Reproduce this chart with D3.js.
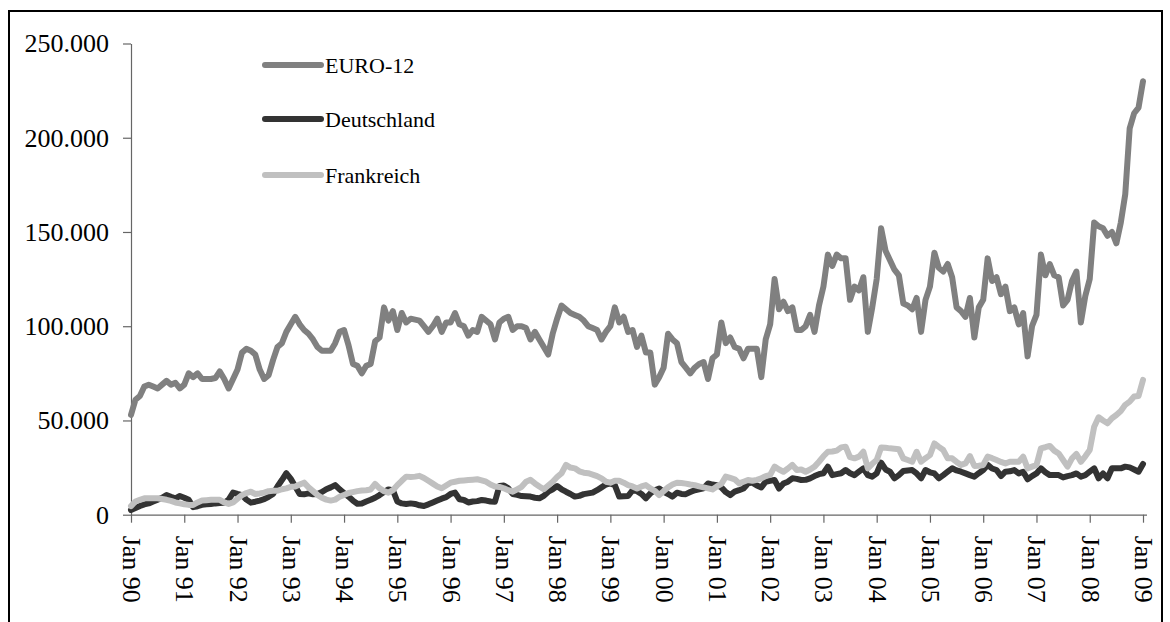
<!DOCTYPE html>
<html>
<head>
<meta charset="utf-8">
<script src="https://cdn.jsdelivr.net/npm/d3@7/dist/d3.min.js"></script>
<style>
  html, body { margin: 0; padding: 0; background: #fff; }
  svg { display: block; font-family: "Liberation Serif", "Times New Roman", serif; }
</style>
</head>
<body>
<svg id="chart" width="1170" height="622"></svg>
<script>
// ---- Data (values in thousands), monthly Jan 1990 .. Jan 2009 ----
const seriesNames = ["EURO-12", "Deutschland", "Frankreich"];
const yearLabels = ["90","91","92","93","94","95","96","97","98","99","00","01","02","03","04","05","06","07","08","09"];
const yTickValues = [0, 50, 100, 150, 200, 250];

const euro12 = [
 53,61,63,68,69,68,67,69,71,69,70,67,
 69,75,73,75,72,72,72,72.5,76,72,67,72,
 77,86,88,87,85,77,72,74,82,89,91,97,
 101,105,101,98,96,93,89,87,87,87,91,97,
 98,90,80,79,75,79,80,92,94,110,103,108,
 98,107,102,104,103.5,103,100,97,100,104,97,102,
 102,107,101,100,95,98,97,105,103,101,93,102,
 104,105,98,100,100,99,93,97,93,89,85,96,
 104,111,109,107,106,105,103,100,99,98,93,97,
 100,110,102,105,97,98,89,95,86,86,69,73,
 78,96,93,91,81,78,75,78,80,81,72,83,
 85,102,91,94,89,88,83,88,88,88,73,93,
 101,125,109,113,108,110,98,98,100,106,97,111,
 121,138,132,138,136,136,114,121,119,126,97,110,
 125,152,140,135,130,127,112,111,109,115,97,114,
 121,139,131,129,133,126,110,108,105,115,94,110,
 114,136,124,126,117,121,108,110,101,107,84,100,
 106,138,127,133,127,126,111,114,124,129,102,116,
 125,155,153,152,148,150,144,155,170,205,213,216,
 230
];

const deutschland = [
 2.5,3.5,4.6,5.5,6,7,8,9,10.4,9.5,8.7,9.9,
 9,7.9,4,4.5,5.2,5.5,5.7,6,6.2,6.4,8,11.7,
 11,10.4,8,6.4,6.9,7.5,8.2,9.5,11,15,18.4,22,
 19,15,11,10.8,11.3,10.8,11,12,13.5,14.5,15.7,13.4,
 11.5,9.6,7.5,5.8,6,7,7.9,9,10.4,12,13.4,13,
 7,6,5.7,6,5.7,5,4.6,5.5,6.5,7.5,8.5,9.3,
 11,11.7,8.2,7.8,6.5,7,7.2,7.8,7.5,7,6.9,15.2,
 15.5,14,11,10.5,9.9,9.8,9.6,9,8.7,10,12.2,13.5,
 15.2,13.5,12.2,11,9.6,10,10.9,11.3,11.7,13,14.5,16,
 16.6,15.7,9.6,9.8,9.9,13,12.5,11,8.7,11.3,13,13.9,
 12.2,11,9.6,11.7,11,10.9,12,13,13.5,14,16.6,16,
 15.7,14.5,12,10.4,12.2,13,13.9,16.6,17,15.5,14.5,17.5,
 18,18.4,13.9,16.5,17.5,19.3,19,18.4,18.5,19.3,20.5,21.5,
 22,25.5,21,21.5,22,23.7,22,21,22.8,24.6,21,20.2,
 21.9,27.6,24,22.8,19.3,21,23.2,23.5,23.7,21.9,19.3,23.7,
 22.5,21.9,19.3,21,22.8,24.6,23.5,22.8,21.9,21,20.2,22,
 23.7,26.4,24.5,23.7,20.5,22.8,23,23.7,21.9,22.8,18.8,20.5,
 21.9,24.6,22.5,21,21,21,19.8,20.5,21,21.9,20.2,21,
 22.8,24.6,19.3,21.9,19.3,24.6,24.6,24.6,25.5,25.1,24,22.8,
 26.9
];

const frankreich = [
 4.6,7,7.9,8.7,8.7,8.7,8.7,8.3,7.9,7.3,6.5,6,
 5.5,5.2,5.2,6.5,7.5,7.7,7.9,7.9,7.9,6.5,5.7,6.5,
 8.5,10.4,11.5,12.2,11,11.3,11.7,12.5,12.7,12.7,13.5,14,
 14.8,15,16,17,14.5,12.5,10.5,9,8,7.5,8,9.5,
 10.5,11.5,12,12.5,12.8,13,13.4,16.3,14,12.5,11.7,13,
 15.7,18,20.2,20,20.2,20.6,19.5,18,16.5,15,14,15.5,
 17,17.5,18,18.2,18.4,18.6,18.8,18.2,17.5,16,15,14.7,
 14,13,12.2,13.5,14.8,17.5,18.5,16.6,15,13.5,15.5,17.5,
 20,22,26.4,25,24.6,23,22.3,22,21.3,20.5,19.3,17.5,
 17,18,18,17,15.7,15,13.9,15,15.7,14,12.7,10.4,
 12.5,14.5,16,17,16.8,16.5,16,15.7,15,14.5,14,13.4,
 15,16.3,20.2,19.5,18.8,16.6,17.5,18.4,18,18.5,19.3,20.5,
 21.1,25.5,24,22.8,24.5,26.4,23.7,24,22.8,24,25.5,28.1,
 31,33.4,33.5,34,35.7,36.1,30.5,29.9,30.8,33.4,24.6,27,
 29,35.7,35.5,35.2,35,34.7,29.9,29,28.1,33.4,28.1,30,
 31.6,37.8,36,34.3,29.9,29.9,28,26.4,27.2,31.1,25.9,26,
 26.4,30.8,30,29,28,27.2,28.1,28.1,28.1,30.8,24.6,25.5,
 26.4,35.2,35.8,36.5,34,32.5,29,25.5,29.9,32.2,28.1,31,
 34.3,46.7,51.7,50,48.5,51.2,52.9,55,58.3,60,62.7,63,
 71.5
];

const seriesColors = ["#808080", "#333333", "#c0c0c0"];

// ---- Chart ----
const svg = d3.select("#chart");
const W = 1170, H = 622;

// outer frame
svg.append("rect")
  .attr("x", 9).attr("y", 11)
  .attr("width", 1153).attr("height", 640)
  .attr("fill", "none").attr("stroke", "#000").attr("stroke-width", 2);

const x = d3.scaleLinear().domain([0, euro12.length - 1]).range([131, 1143]);
const y = d3.scaleLinear().domain([0, 250]).range([514.7, 43.5]);

const fmt = v => {
  if (v === 0) return "0";
  const s = String(v * 1000);
  return s.replace(/\B(?=(\d{3})+(?!\d))/g, ".");
};

// y axis
const yAxis = svg.append("g")
  .attr("transform", `translate(${x(0)},0)`)
  .call(d3.axisLeft(y).tickValues(yTickValues).tickFormat(fmt).tickSize(8).tickSizeOuter(0).tickPadding(14));
yAxis.select(".domain").attr("stroke", "#666").attr("stroke-width", 1.2);
yAxis.selectAll(".tick line").attr("stroke", "#666").attr("stroke-width", 1.2);
yAxis.selectAll(".tick text")
  .attr("font-family", "Liberation Serif, Times New Roman, serif")
  .attr("font-size", 26).attr("fill", "#000");

// x axis
const xTickIdx = yearLabels.map((d, i) => i * 12);
const xAxis = svg.append("g")
  .attr("transform", `translate(0,${y(0)})`)
  .call(d3.axisBottom(x).tickValues(xTickIdx)
        .tickFormat((d, i) => "Jan " + yearLabels[i]).tickSize(8).tickSizeOuter(0));
xAxis.select(".domain").attr("stroke", "#666").attr("stroke-width", 1.2)
  .attr("d", `M${x(0)},0.5H${x(euro12.length - 1) + 4}`);
xAxis.selectAll(".tick line").attr("stroke", "#666").attr("stroke-width", 1.2);
xAxis.selectAll(".tick text")
  .attr("font-family", "Liberation Serif, Times New Roman, serif")
  .attr("font-size", 26).attr("fill", "#000")
  .attr("text-anchor", "start")
  .attr("dy", null)
  .attr("dominant-baseline", "central")
  .attr("transform", "translate(0,21) rotate(90)")
  .attr("x", 0).attr("y", 0);

// lines
const allSeries = [euro12, deutschland, frankreich];
const line = d3.line().x((d, i) => x(i)).y(d => y(d));
allSeries.forEach((s, k) => {
  svg.append("path")
    .datum(s)
    .attr("d", line)
    .attr("fill", "none")
    .attr("stroke", seriesColors[k])
    .attr("stroke-width", 6)
    .attr("stroke-linejoin", "round")
    .attr("stroke-linecap", "round");
});

// legend
const legendY = [65, 119, 175];
seriesNames.forEach((name, k) => {
  svg.append("line")
    .attr("x1", 265).attr("x2", 321)
    .attr("y1", legendY[k]).attr("y2", legendY[k])
    .attr("stroke", seriesColors[k]).attr("stroke-width", 6)
    .attr("stroke-linecap", "round");
  svg.append("text")
    .attr("x", 325).attr("y", legendY[k] + 8)
    .attr("font-size", 22).attr("fill", "#000")
    .text(name);
});
</script>
</body>
</html>
